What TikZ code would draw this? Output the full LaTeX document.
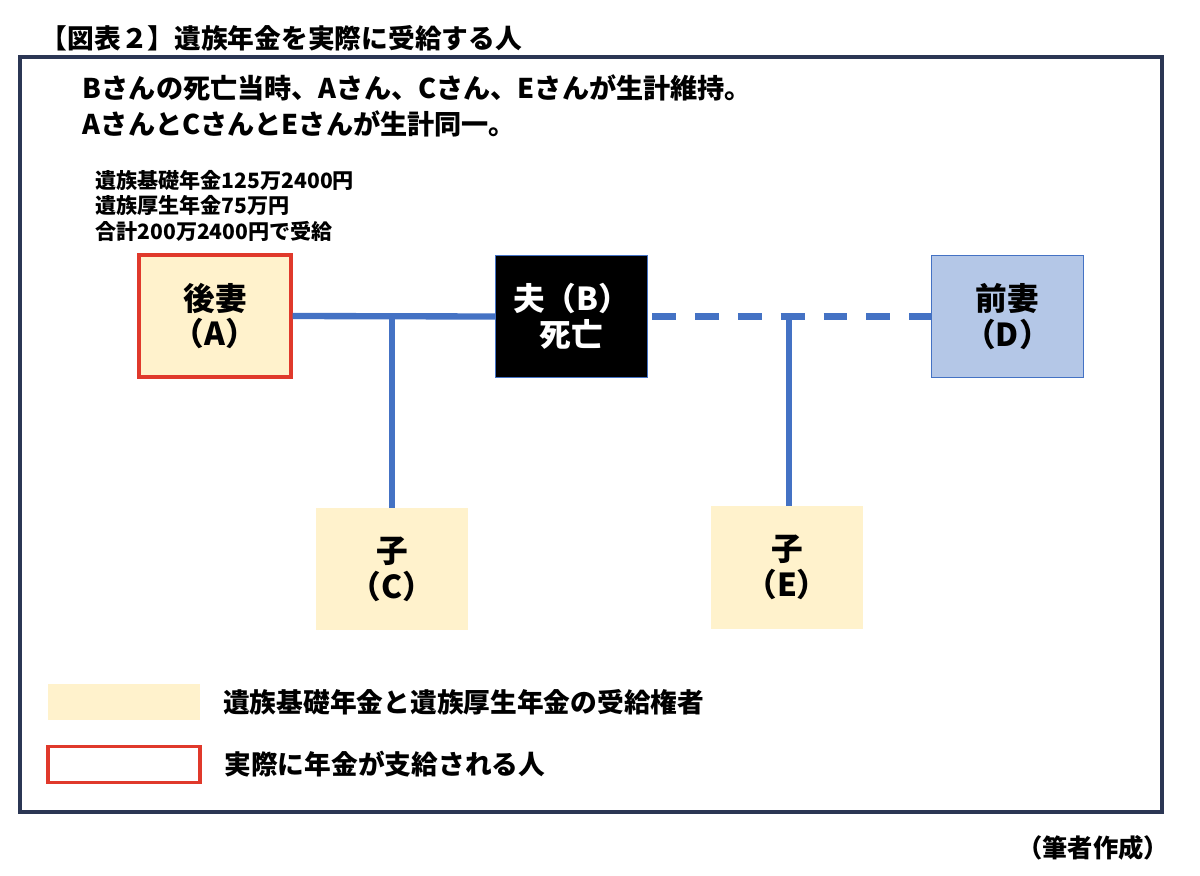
\documentclass[tikz,border=0pt]{standalone}
\usepackage{fontspec}
\setmainfont{Noto Sans CJK JP}
\usetikzlibrary{positioning}
\definecolor{frameblue}{HTML}{2B3654}
\definecolor{lineblue}{HTML}{4472C4}
\definecolor{paleyellow}{HTML}{FFF2CC}
\definecolor{paleblue}{HTML}{B4C7E7}
\definecolor{markred}{HTML}{E0392B}
\begin{document}
\begin{tikzpicture}[x=0.025cm, y=-0.025cm,
		person/.style = {minimum width=3.8cm, minimum height=3.05cm, align=center, inner sep=0pt,
			font=\bfseries\fontsize{22.5pt}{25.5pt}\selectfont},
		heir/.style = {person, fill=paleyellow},
		link/.style = {lineblue, line width=4.5pt},
		legendbox/.style = {minimum width=3.8cm, minimum height=0.9cm, inner sep=0pt}]
	\useasboundingbox (0,0) rectangle (1200,875);
	\node[anchor=west, font=\bfseries\fontsize{19pt}{22pt}\selectfont] (title) at (36,38) {【図表２】遺族年金を実際に受給する人};
	\draw[frameblue, line width=2.2pt] (20,57) rectangle (1162,812);
	\node[anchor=north west, align=left, font=\bfseries\fontsize{19.3pt}{25.2pt}\selectfont] (note) at (78,70)
		{Bさんの死亡当時、Aさん、Cさん、Eさんが生計維持。\\AさんとCさんとEさんが生計同一。};
	\node[anchor=north west, align=left, inner sep=0pt, font=\bfseries\fontsize{15pt}{18.2pt}\selectfont] (amount) at (95,170)
		{遺族基礎年金125万2400円\\遺族厚生年金75万円\\合計200万2400円で受給};
	% persons
	\node[heir, draw=markred, line width=2.2pt] (A) at (215,316) {後妻\\（A）};
	\node[person, fill=black, draw=lineblue, text=white] (B) at (571.5,316.5) {夫（B）\\死亡};
	\node[person, fill=paleblue, draw=lineblue, line width=0.6pt] (D) at (1007.5,316.5) {前妻\\（D）};
	\node[heir] (C) at (392,569) {子\\（C）};
	\node[heir] (E) at (787,567.5) {子\\（E）};
	% family lines
	\coordinate (jC) at (C.north |- A.east);
	\coordinate (jE) at (789,317);
	\draw[link] (A.east) -- (B.west);
	\draw[link] (jC) -- (C.north);
	\draw[link, dash pattern=on 17pt off 13.5pt, shorten <=3pt] (B.east) -- (D.west);
	\draw[link] (jE) -- (jE |- E.north);
	% legend
	\node[legendbox, fill=paleyellow] (key1) at (124,702) {};
	\node[legendbox, draw=markred, line width=2.2pt] (key2) at (124,764.5) {};
	\node[right=0.45cm of key1, font=\bfseries\fontsize{19pt}{22pt}\selectfont] (key1text) {遺族基礎年金と遺族厚生年金の受給権者};
	\node[right=0.45cm of key2, font=\bfseries\fontsize{19pt}{22pt}\selectfont] (key2text) {実際に年金が支給される人};
	\node[anchor=east, font=\bfseries\fontsize{18pt}{20pt}\selectfont] (source) at (1174,848) {（筆者作成）};
\end{tikzpicture}
\end{document}
